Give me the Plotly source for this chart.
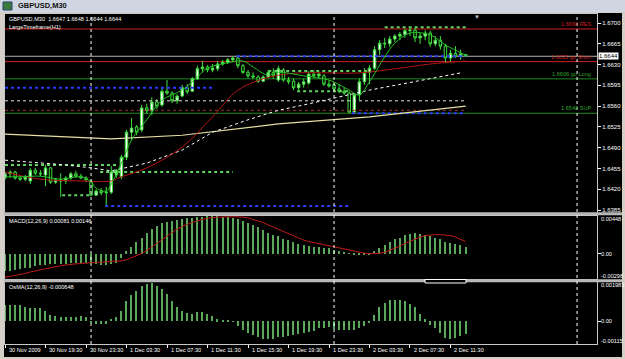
import plotly.graph_objects as go

W, H = 625, 359
def PX(x): return x / W
def PY(y): return 1 - y / H

# ---------------- data ----------------
bars = list(range(92))
opens = [1.6439,1.6446,1.6449,1.6439,1.6437,1.6434,1.6452,1.6447,1.6444,1.6456,
         1.6432,1.6436,1.6434,1.6439,1.6446,1.6442,1.6439,1.6434,1.6410,1.6417,
         1.6414,1.6415,1.6444,1.6441,1.6474,1.6516,1.6525,1.6520,1.6557,1.6552,
         1.6567,1.6562,1.6585,1.6582,1.6569,1.6577,1.6591,1.6585,1.6606,1.6623,
         1.6626,1.6621,1.6623,1.6631,1.6634,1.6638,1.6641,1.6628,1.6617,1.6611,
         1.6609,1.6602,1.6609,1.6617,1.6604,1.6621,1.6604,1.6602,1.6591,1.6597,
         1.6599,1.6614,1.6611,1.6611,1.6597,1.6596,1.6589,1.6585,1.6582,1.6550,
         1.6579,1.6601,1.6617,1.6624,1.6655,1.6666,1.6665,1.6673,1.6678,1.6681,
         1.6687,1.6688,1.6675,1.6678,1.6683,1.6665,1.6671,1.6661,1.6641,1.6649,
         1.6644,1.6647]
highs = [1.6449,1.6452,1.6451,1.6442,1.6444,1.6456,1.6456,1.6452,1.6461,1.6457,
         1.6439,1.6447,1.6442,1.6449,1.6451,1.6446,1.6442,1.6436,1.6420,1.6422,
         1.6424,1.6459,1.6454,1.6478,1.6520,1.6540,1.6528,1.6562,1.6564,1.6575,
         1.6572,1.6591,1.6604,1.6585,1.6580,1.6596,1.6597,1.6609,1.6628,1.6636,
         1.6629,1.6631,1.6636,1.6638,1.6641,1.6644,1.6646,1.6631,1.6621,1.6617,
         1.6612,1.6612,1.6621,1.6624,1.6628,1.6624,1.6609,1.6607,1.6601,1.6606,
         1.6619,1.6621,1.6617,1.6614,1.6604,1.6601,1.6597,1.6592,1.6585,1.6582,
         1.6607,1.6624,1.6629,1.6661,1.6671,1.6675,1.6678,1.6681,1.6685,1.6690,
         1.6693,1.6692,1.6683,1.6688,1.6687,1.6678,1.6678,1.6665,1.6655,1.6661,
         1.6655,1.6648]
lows = [1.6436,1.6439,1.6436,1.6434,1.6434,1.6429,1.6444,1.6442,1.6425,1.6429,
        1.6429,1.6407,1.6429,1.6436,1.6439,1.6437,1.6432,1.6409,1.6409,1.6410,
        1.6390,1.6412,1.6439,1.6437,1.6469,1.6503,1.6511,1.6516,1.6547,1.6545,
        1.6555,1.6559,1.6579,1.6565,1.6564,1.6575,1.6580,1.6584,1.6604,1.6617,
        1.6617,1.6617,1.6619,1.6628,1.6631,1.6634,1.6624,1.6614,1.6607,1.6606,
        1.6599,1.6601,1.6607,1.6606,1.6601,1.6601,1.6597,1.6587,1.6587,1.6591,
        1.6596,1.6607,1.6606,1.6594,1.6591,1.6585,1.6582,1.6579,1.6548,1.6547,
        1.6570,1.6596,1.6597,1.6621,1.6646,1.6658,1.6660,1.6668,1.6671,1.6675,
        1.6678,1.6668,1.6665,1.6671,1.6660,1.6661,1.6655,1.6634,1.6634,1.6641,
        1.6638,1.6644]
closes = [1.6446,1.6449,1.6439,1.6437,1.6441,1.6452,1.6447,1.6446,1.6456,1.6432,
          1.6436,1.6434,1.6439,1.6446,1.6442,1.6439,1.6436,1.6410,1.6417,1.6414,
          1.6415,1.6449,1.6452,1.6474,1.6516,1.6523,1.6516,1.6557,1.6552,1.6567,
          1.6560,1.6585,1.6582,1.6569,1.6577,1.6591,1.6584,1.6606,1.6623,1.6626,
          1.6621,1.6624,1.6631,1.6634,1.6638,1.6641,1.6628,1.6617,1.6611,1.6609,
          1.6602,1.6609,1.6617,1.6612,1.6623,1.6604,1.6601,1.6591,1.6597,1.6601,
          1.6614,1.6611,1.6614,1.6597,1.6594,1.6589,1.6585,1.6582,1.6550,1.6579,
          1.6601,1.6617,1.6624,1.6655,1.6666,1.6665,1.6673,1.6678,1.6681,1.6687,
          1.6688,1.6675,1.6678,1.6683,1.6665,1.6671,1.6661,1.6641,1.6649,1.6644,
          1.6648,1.6644]

# moving averages (read at sparse bars)
fast_ma_bars = [0,3,7,11,15,17,18,20,21,23,25,28,31,35,38,40,44,47,49,52,54,59,64,68,70,72,75,77,80,84,87,90,91]
fast_ma = [1.6441,1.6441,1.6442,1.6437,1.6441,1.6432,1.6422,1.6417,1.6429,1.6464,1.6503,1.6537,1.6570,
           1.6587,1.6609,1.6624,1.6633,1.6636,1.6626,1.6612,1.6617,1.6611,1.6604,1.6587,1.6579,1.6601,
           1.6643,1.6666,1.6683,1.6680,1.6663,1.6650,1.6646]
red_ma_bars = [0,7,15,21,23,28,35,41,46,51,54,58,64,70,78,84,91]
red_ma = [1.6449,1.6437,1.6434,1.6434,1.6441,1.6456,1.6491,1.6542,1.6587,1.6606,1.6612,1.6616,
          1.6616,1.6616,1.6624,1.6631,1.6636]
white_ma_bars = [0,12,17,21,28,35,41,48,54,59,72,90]
white_ma = [1.6469,1.6461,1.6456,1.6451,1.6464,1.6486,1.6516,1.6537,1.6553,1.6562,1.6587,1.6616]
khaki_ma_bars = [0,15,21,35,54,72,91]
khaki_ma = [1.6513,1.6508,1.6505,1.6511,1.6530,1.6542,1.6560]

# higher-timeframe dotted levels: (start bar, end bar, price)
green_levels = [(0, 22.3, 1.6461), (11.3, 17, 1.6410), (18.8, 45, 1.6449),
                (52, 72, 1.6619), (57.7, 68, 1.6585), (75, 91, 1.6693)]
blue_levels = [(0, 41, 1.6591), (19.8, 68, 1.6392), (45.8, 91, 1.6644), (68.5, 91, 1.6548)]
white_level = (0, 91, 1.6569)
red_level = (0, 91, 1.6553)

# key horizontal lines
res_price, short_price, long_price, sup_price = 1.6690, 1.6635, 1.6606, 1.6548
last_price = 1.6644

price_ticks = [1.6700, 1.6665, 1.6630, 1.6595, 1.6560, 1.6525, 1.6490, 1.6455, 1.6420, 1.6385]

macd_main = [-0.00202,-0.00202,-0.00189,-0.00180,-0.00171,-0.00162,-0.00149,-0.00136,-0.00127,-0.00123,
             -0.00123,-0.00119,-0.00119,-0.00114,-0.00114,-0.00114,-0.00110,-0.00114,-0.00123,-0.00127,
             -0.00127,-0.00123,-0.00105,-0.00048,0.00031,0.00083,0.00140,0.00193,0.00246,0.00290,
             0.00334,0.00360,0.00382,0.00391,0.00400,0.00413,0.00421,0.00426,0.00435,0.00439,
             0.00443,0.00448,0.00443,0.00435,0.00435,0.00426,0.00413,0.00391,0.00369,0.00338,
             0.00312,0.00281,0.00250,0.00224,0.00206,0.00180,0.00158,0.00136,0.00119,0.00105,
             0.00092,0.00083,0.00083,0.00075,0.00070,0.00048,0.00031,0.00018,0.00004,-0.00009,
             -0.00013,-0.00013,-0.00004,0.00031,0.00075,0.00110,0.00145,0.00171,0.00193,0.00224,
             0.00237,0.00246,0.00237,0.00224,0.00206,0.00193,0.00171,0.00140,0.00127,0.00114,
             0.00101,0.00081]
macd_signal = [-0.00277,-0.00268,-0.00259,-0.00246,-0.00233,-0.00215,-0.00202,-0.00184,-0.00171,-0.00158,
               -0.00149,-0.00140,-0.00132,-0.00123,-0.00119,-0.00114,-0.00110,-0.00105,-0.00105,-0.00105,
               -0.00101,-0.00097,-0.00092,-0.00083,-0.00070,-0.00048,-0.00026,0.00004,0.00040,0.00083,
               0.00127,0.00171,0.00215,0.00259,0.00294,0.00325,0.00351,0.00373,0.00391,0.00408,
               0.00421,0.00430,0.00435,0.00439,0.00439,0.00439,0.00439,0.00435,0.00426,0.00408,
               0.00391,0.00369,0.00342,0.00316,0.00285,0.00259,0.00233,0.00206,0.00184,0.00162,
               0.00145,0.00132,0.00119,0.00110,0.00097,0.00088,0.00075,0.00061,0.00048,0.00035,
               0.00022,0.00009,0.00004,0.00000,0.00004,0.00018,0.00040,0.00066,0.00092,0.00123,
               0.00149,0.00176,0.00198,0.00215,0.00224,0.00228,0.00228,0.00224,0.00215,0.00198,
               0.00176,0.00146]
osma = [0.00084,0.00084,0.00084,0.00080,0.00072,0.00067,0.00067,0.00067,0.00051,0.00032,
        0.00026,0.00021,0.00021,0.00021,0.00021,0.00024,0.00021,-0.00005,-0.00012,-0.00014,
        -0.00012,0.00012,0.00021,0.00051,0.00101,0.00132,0.00154,0.00180,0.00188,0.00192,
        0.00180,0.00162,0.00140,0.00101,0.00072,0.00051,0.00041,0.00038,0.00046,0.00046,
        0.00038,0.00029,0.00009,0.00003,0.00002,-0.00003,-0.00026,-0.00044,-0.00057,-0.00070,
        -0.00079,-0.00088,-0.00092,-0.00092,-0.00079,-0.00079,-0.00075,-0.00070,-0.00065,-0.00057,
        -0.00053,-0.00049,-0.00036,-0.00035,-0.00027,-0.00040,-0.00044,-0.00043,-0.00044,-0.00044,
        -0.00035,-0.00022,-0.00008,0.00031,0.00071,0.00092,0.00105,0.00108,0.00108,0.00101,
        0.00088,0.00070,0.00039,0.00009,-0.00018,-0.00035,-0.00057,-0.00084,-0.00088,-0.00084,
        -0.00075,-0.00065]

tick_bars = [0, 8, 16, 24, 32, 40, 48, 56, 64, 72, 80, 88]
tick_labels = ["30 Nov 2009", "30 Nov 19:30", "30 Nov 23:30", "1 Dec 03:30", "1 Dec 07:30",
               "1 Dec 11:30", "1 Dec 15:30", "1 Dec 19:30", "1 Dec 23:30", "2 Dec 03:30",
               "2 Dec 07:30", "2 Dec 11:30"]
day_breaks = [17, 65, 113]

macd_labels = [0.00448, 0.0, -0.00298]
osma_labels = [0.001983, 0.0, -0.00115]

# ---------------- figure ----------------
FONT = "Liberation Sans"
GREEN = "#3ee03e"
fig = go.Figure()

fig.add_trace(go.Candlestick(
    x=bars, open=opens, high=highs, low=lows, close=closes, xaxis="x", yaxis="y",
    increasing=dict(line=dict(color=GREEN, width=1), fillcolor="white"),
    decreasing=dict(line=dict(color=GREEN, width=1), fillcolor="black"),
    whiskerwidth=0, showlegend=False, hoverinfo="skip"))

def seg(lv, color, width=1.6, dash="dot"):
    x0, x1, p = lv
    fig.add_trace(go.Scatter(x=[x0, x1], y=[p, p], mode="lines", xaxis="x", yaxis="y",
                             line=dict(color=color, width=width, dash=dash),
                             showlegend=False, hoverinfo="skip"))

seg(white_level, "#dddddd", 1, "dot")
seg(red_level, "#a03030", 1, "dot")
for lv in green_levels:
    seg(lv, "#5fd25f", 2, "dot")
for lv in blue_levels:
    seg(lv, "#2b3cff", 2, "dot")

fig.add_trace(go.Scatter(x=khaki_ma_bars, y=khaki_ma, mode="lines", xaxis="x", yaxis="y",
                         line=dict(color="#e6dfa5", width=1.2), showlegend=False, hoverinfo="skip"))
fig.add_trace(go.Scatter(x=white_ma_bars, y=white_ma, mode="lines", xaxis="x", yaxis="y",
                         line=dict(color="white", width=1, dash="dot"), showlegend=False, hoverinfo="skip"))
fig.add_trace(go.Scatter(x=red_ma_bars, y=red_ma, mode="lines", xaxis="x", yaxis="y",
                         line=dict(color="#b41414", width=1, shape="spline"), showlegend=False, hoverinfo="skip"))
fig.add_trace(go.Scatter(x=fast_ma_bars, y=fast_ma, mode="lines", xaxis="x", yaxis="y",
                         line=dict(color="#22c022", width=1, shape="spline"), showlegend=False, hoverinfo="skip"))

# MACD panel
fig.add_trace(go.Bar(x=bars, y=macd_main, xaxis="x2", yaxis="y2", width=0.25,
                     marker=dict(color="#5aa85a", line=dict(width=0)), showlegend=False, hoverinfo="skip"))
fig.add_trace(go.Scatter(x=bars, y=macd_signal, mode="lines", xaxis="x2", yaxis="y2",
                         line=dict(color="#c01818", width=1), showlegend=False, hoverinfo="skip"))
# OsMA panel
fig.add_trace(go.Bar(x=bars, y=osma, xaxis="x3", yaxis="y3", width=0.25,
                     marker=dict(color="#5aa85a", line=dict(width=0)), showlegend=False, hoverinfo="skip"))

xdom = [PX(5), PX(597)]
xr = [0, 116.94]
axis_common = dict(showgrid=False, zeroline=False, showline=True, linecolor="#c8c8c8",
                   linewidth=1, mirror=True, fixedrange=True)
fig.update_layout(
    width=W, height=H, margin=dict(l=0, r=0, t=0, b=0),
    paper_bgcolor="#d4d0c8", plot_bgcolor="black", bargap=0,
    font=dict(family=FONT, size=6, color="white"),
    xaxis=dict(domain=xdom, range=xr, anchor="y", showticklabels=False, ticks="",
               rangeslider=dict(visible=False), **axis_common),
    yaxis=dict(domain=[PY(213), PY(14)], range=[1.63800, 1.67152], side="right", anchor="x",
               tickvals=price_ticks, ticktext=[f"{v:.4f}" for v in price_ticks],
               ticks="outside", ticklen=3, tickcolor="white",
               tickfont=dict(family=FONT, size=6, color="white"), **axis_common),
    xaxis2=dict(domain=xdom, range=xr, anchor="y2", matches="x", showticklabels=False, ticks="", **axis_common),
    yaxis2=dict(domain=[PY(279), PY(216)], range=[macd_labels[2], macd_labels[0]], side="right", anchor="x2",
                showticklabels=False, tickvals=[0], ticks="outside", ticklen=3, tickcolor="white", **axis_common),
    xaxis3=dict(domain=xdom, range=xr, anchor="y3", matches="x", showticklabels=False,
                tickvals=tick_bars, ticks="outside", ticklen=3, tickcolor="white", **axis_common),
    yaxis3=dict(domain=[PY(344), PY(282)], range=[osma_labels[2], osma_labels[0]], side="right", anchor="x3",
                showticklabels=False, tickvals=[0], ticks="outside", ticklen=3, tickcolor="white", **axis_common),
)

shapes = []
# window chrome
shapes.append(dict(type="rect", xref="paper", yref="paper", x0=PX(4), x1=PX(622), y0=PY(357), y1=PY(13),
                   fillcolor="black", line=dict(width=0), layer="below"))
shapes.append(dict(type="rect", xref="paper", yref="paper", x0=0, x1=1, y0=PY(12), y1=1,
                   fillcolor="#cfd6e2", line=dict(width=0), layer="below"))
shapes.append(dict(type="rect", xref="paper", yref="paper", x0=PX(3), x1=PX(12), y0=PY(10), y1=PY(2),
                   fillcolor="#3b7a3b", line=dict(color="#24406e", width=1), layer="above"))
# panel splitters
for yy in (213.5, 280.5):
    shapes.append(dict(type="rect", xref="paper", yref="paper", x0=PX(4), x1=PX(622), y0=PY(yy + 1.8), y1=PY(yy - 1.2),
                       fillcolor="#b8b8b8", line=dict(width=0), layer="above"))
# key lines
for p, c in ((res_price, "#d01e1e"), (short_price, "#d01e1e"), (long_price, "#1f8a1f"), (sup_price, "#1f8a1f")):
    shapes.append(dict(type="line", xref="x", yref="y", x0=xr[0], x1=xr[1], y0=p, y1=p,
                       line=dict(color=c, width=1), layer="below"))
shapes.append(dict(type="line", xref="x", yref="y", x0=xr[0], x1=xr[1], y0=last_price, y1=last_price,
                   line=dict(color="#b0b0b0", width=1), layer="below"))
# day separators
for d in day_breaks:
    shapes.append(dict(type="line", xref="x", yref="paper", x0=d, x1=d, y0=PY(344), y1=PY(14),
                       line=dict(color="white", width=1, dash="dot"), layer="above"))
shapes.append(dict(type="rect", xref="paper", yref="paper", x0=PX(425), x1=PX(466), y0=PY(283), y1=PY(279.5),
                   fillcolor="black", line=dict(color="white", width=1), layer="above"))
fig.update_layout(shapes=shapes)

ann = []
ann.append(dict(text="<b>GBPUSD,M30</b>", xref="paper", yref="paper", x=PX(16), y=PY(6), xanchor="left",
                yanchor="middle", showarrow=False, font=dict(family=FONT, size=7.5, color="#101010")))
ann.append(dict(text="GBPUSD,M30  1.6647 1.6648 1.6644 1.6644", xref="paper", yref="paper", x=PX(7), y=PY(19),
                xanchor="left", yanchor="middle", showarrow=False, font=dict(family=FONT, size=5.6, color="white")))
ann.append(dict(text="LargeTimeframe(H1)", xref="paper", yref="paper", x=PX(7), y=PY(27),
                xanchor="left", yanchor="middle", showarrow=False, font=dict(family=FONT, size=5.6, color="white")))
ann.append(dict(text="MACD(12,26,9) 0.00081 0.00146", xref="paper", yref="paper", x=PX(7), y=PY(221),
                xanchor="left", yanchor="middle", showarrow=False, font=dict(family=FONT, size=5.6, color="white")))
ann.append(dict(text="OsMA(12,26,9) -0.000648", xref="paper", yref="paper", x=PX(7), y=PY(287),
                xanchor="left", yanchor="middle", showarrow=False, font=dict(family=FONT, size=5.6, color="white")))
ann.append(dict(text="▼", xref="paper", yref="paper", x=PX(477), y=PY(17), xanchor="center", yanchor="middle",
                showarrow=False, font=dict(family=FONT, size=6, color="#c0c0c0")))
# level labels
for p, t, c in ((res_price, "1.6690 RES", "#d01e1e"), (short_price, "1.6635 go Short", "#d01e1e"),
                (long_price, "1.6606 go Long", "#2ea02e"), (sup_price, "1.6548 SUP", "#2ea02e")):
    ann.append(dict(text=t, xref="x", yref="y", x=116.2, y=p, xanchor="right", yanchor="bottom",
                    showarrow=False, font=dict(family=FONT, size=5.6, color=c)))
# last price box
ann.append(dict(text="1.6644", xref="paper", yref="y", x=PX(598), y=last_price, xanchor="left", yanchor="middle",
                showarrow=False, bgcolor="white", borderpad=0, font=dict(family=FONT, size=6, color="black")))
# sub-panel scale labels
for v, sh in zip(macd_labels, (-3, 0, 3)):
    ann.append(dict(text=(f"{v:.5f}" if v != 0 else "0.00"), xref="paper", yref="y2", x=PX(599), y=v, yshift=sh,
                    xanchor="left", yanchor="middle", showarrow=False, font=dict(family=FONT, size=5.6, color="white")))
for v, t, sh in zip(osma_labels, ("0.001983", "0.00", "-0.00115"), (-3, 0, 3)):
    ann.append(dict(text=t, xref="paper", yref="y3", x=PX(599), y=v, yshift=sh,
                    xanchor="left", yanchor="middle", showarrow=False, font=dict(family=FONT, size=5.6, color="white")))
# time labels
for b, t in zip(tick_bars, tick_labels):
    ann.append(dict(text=t, xref="x3", yref="paper", x=b + 0.3, y=PY(350), xanchor="left", yanchor="middle",
                    showarrow=False, font=dict(family=FONT, size=5.6, color="white")))
fig.update_layout(annotations=ann)

fig.write_html("out.html")
